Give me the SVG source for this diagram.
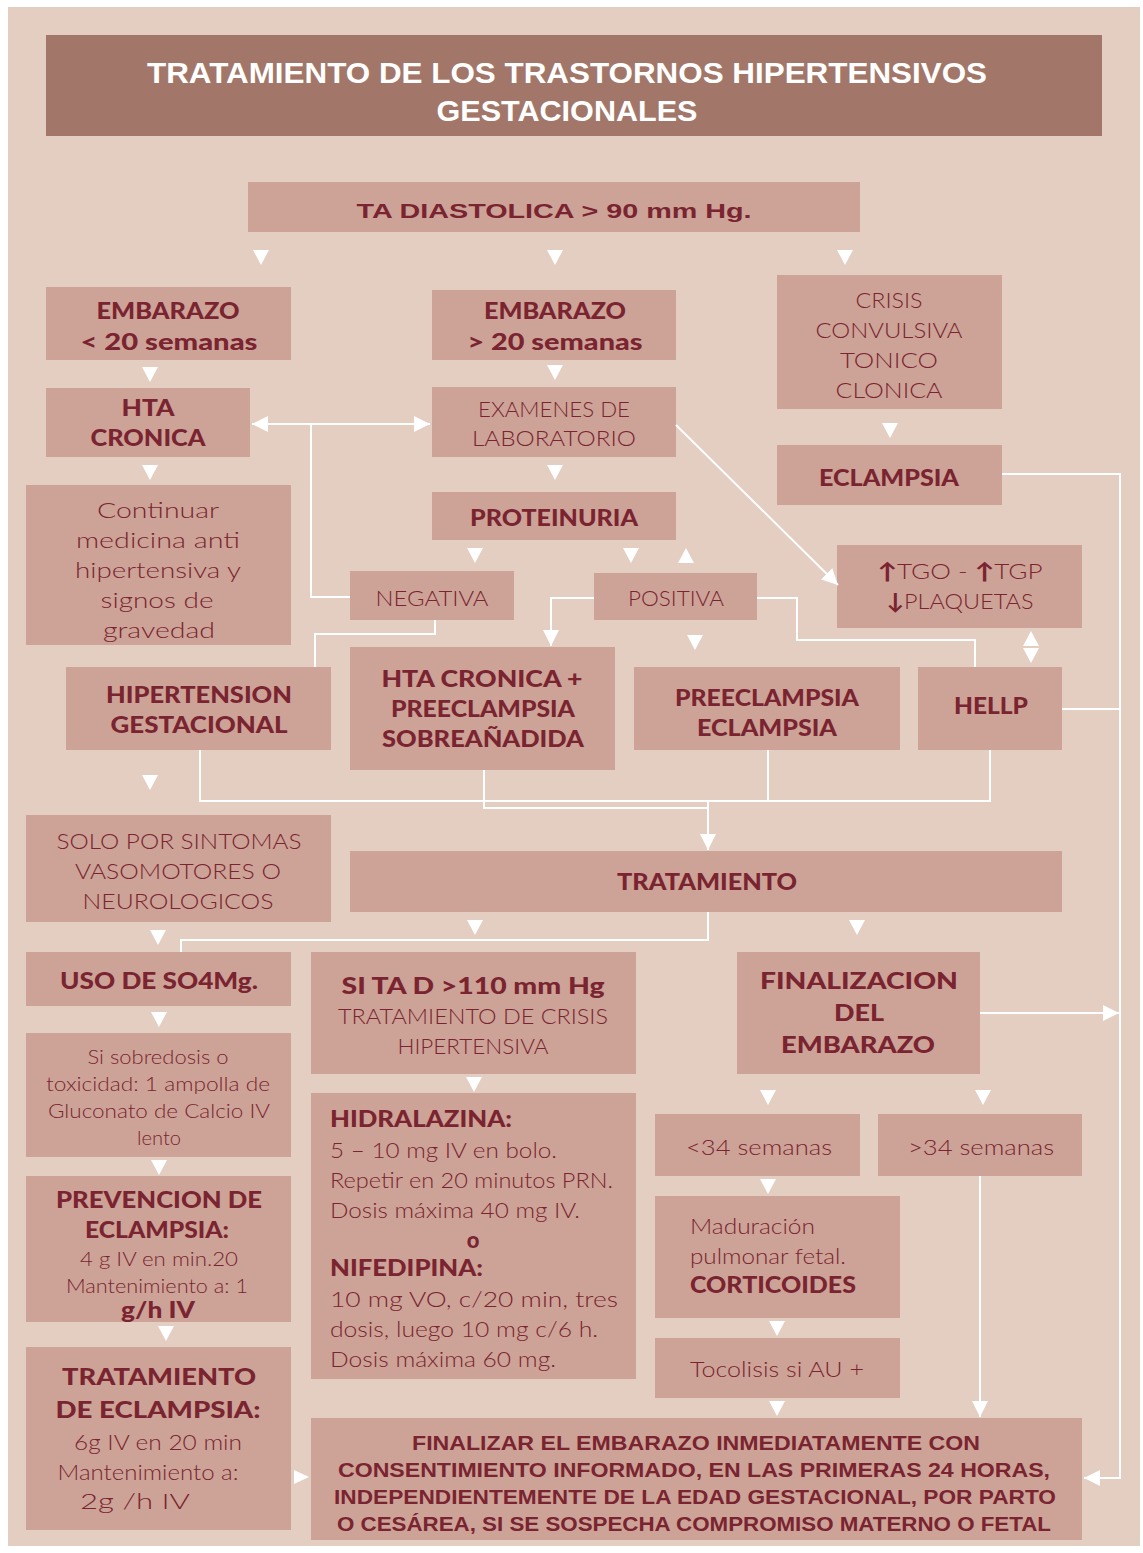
<svg xmlns="http://www.w3.org/2000/svg" width="1143" height="1553" viewBox="0 0 1143 1553">
<style>
.bg{fill:#e4cdc1}
.box{fill:#cca396}
.title{fill:#a27769}
text{font-family:Lato,"Liberation Sans",sans-serif;fill:#7b2431;text-anchor:middle;dominant-baseline:central}
.b{font-weight:900;font-size:22px}
.n{font-weight:300;font-size:22px}
.s{font-weight:300;font-size:19px}
.l{text-anchor:start}
.t{font-family:"Liberation Sans",Arial,sans-serif;font-weight:700;font-size:30px;fill:#ffffff}
.c{font-family:"Liberation Sans",Arial,sans-serif;font-weight:700;font-size:21px}
.ln{fill:none;stroke:#ffffff;stroke-width:2}
.tri{fill:#ffffff}
</style>
<defs>
<marker id="ah" viewBox="0 0 16 16" refX="16" refY="8" markerWidth="16" markerHeight="16" markerUnits="userSpaceOnUse" orient="auto-start-reverse">
<path d="M0,0 L16,8 L0,16 Z" fill="#ffffff"/>
</marker>
<path id="dn" d="M-8,0 L8,0 L0,15 Z"/>
<path id="up" d="M-8,15 L8,15 L0,0 Z"/>
</defs>
<rect x="0" y="0" width="1143" height="1553" fill="#ffffff"/>
<rect class="bg" x="8" y="7" width="1132" height="1539"/>

<g id="title">
<rect class="title" x="46" y="35" width="1056" height="101"/>
<text class="t" x="567" y="72" textLength="840" lengthAdjust="spacingAndGlyphs">TRATAMIENTO DE LOS TRASTORNOS HIPERTENSIVOS</text>
<text class="t" x="567" y="110" textLength="261" lengthAdjust="spacingAndGlyphs">GESTACIONALES</text>
</g>

<g id="ta">
<rect class="box" x="248" y="182" width="612" height="50"/>
<text class="c" x="554" y="210" font-size="24" textLength="395" lengthAdjust="spacingAndGlyphs">TA DIASTOLICA &gt; 90 mm Hg.</text>
</g>

<g id="emb20a">
<rect class="box" x="46" y="287" width="245" height="73"/>
<text class="b" x="168" y="310" textLength="143" lengthAdjust="spacingAndGlyphs">EMBARAZO</text>
<text class="b" x="169" y="341" textLength="177" lengthAdjust="spacingAndGlyphs">&lt; 20 semanas</text>
</g>
<g id="emb20b">
<rect class="box" x="432" y="290" width="244" height="70"/>
<text class="b" x="555" y="310" textLength="142" lengthAdjust="spacingAndGlyphs">EMBARAZO</text>
<text class="b" x="555" y="341" textLength="175" lengthAdjust="spacingAndGlyphs">&gt; 20 semanas</text>
</g>
<g id="crisis">
<rect class="box" x="777" y="275" width="225" height="134"/>
<text class="n" x="889" y="299" textLength="67" lengthAdjust="spacingAndGlyphs">CRISIS</text>
<text class="n" x="889" y="329" textLength="147" lengthAdjust="spacingAndGlyphs">CONVULSIVA</text>
<text class="n" x="889" y="359" textLength="98" lengthAdjust="spacingAndGlyphs">TONICO</text>
<text class="n" x="889" y="389" textLength="107" lengthAdjust="spacingAndGlyphs">CLONICA</text>
</g>

<g id="htacronica">
<rect class="box" x="46" y="388" width="204" height="69"/>
<text class="b" x="148" y="407" textLength="53" lengthAdjust="spacingAndGlyphs">HTA</text>
<text class="b" x="148" y="437" textLength="115" lengthAdjust="spacingAndGlyphs">CRONICA</text>
</g>
<g id="examenes">
<rect class="box" x="432" y="387" width="244" height="70"/>
<text class="n" x="554" y="408" textLength="152" lengthAdjust="spacingAndGlyphs">EXAMENES DE</text>
<text class="n" x="554" y="437" textLength="164" lengthAdjust="spacingAndGlyphs">LABORATORIO</text>
</g>
<g id="eclampsia">
<rect class="box" x="777" y="445" width="225" height="60"/>
<text class="b" x="889" y="477" textLength="140" lengthAdjust="spacingAndGlyphs">ECLAMPSIA</text>
</g>

<g id="continuar">
<rect class="box" x="26" y="485" width="265" height="160"/>
<text class="n" x="158" y="509" textLength="122" lengthAdjust="spacingAndGlyphs">Continuar</text>
<text class="n" x="158" y="539" textLength="164" lengthAdjust="spacingAndGlyphs">medicina anti</text>
<text class="n" x="158" y="569" textLength="166" lengthAdjust="spacingAndGlyphs">hipertensiva y</text>
<text class="n" x="157" y="599" textLength="113" lengthAdjust="spacingAndGlyphs">signos de</text>
<text class="n" x="159" y="629" textLength="112" lengthAdjust="spacingAndGlyphs">gravedad</text>
</g>
<g id="proteinuria">
<rect class="box" x="432" y="492" width="244" height="48"/>
<text class="b" x="554" y="517" textLength="168" lengthAdjust="spacingAndGlyphs">PROTEINURIA</text>
</g>
<g id="negativa">
<rect class="box" x="350" y="571" width="164" height="49"/>
<text class="n" x="432" y="597" textLength="113" lengthAdjust="spacingAndGlyphs">NEGATIVA</text>
</g>
<g id="positiva">
<rect class="box" x="594" y="573" width="163" height="47"/>
<text class="n" x="676" y="597" textLength="96" lengthAdjust="spacingAndGlyphs">POSITIVA</text>
</g>
<g id="tgo">
<rect class="box" x="837" y="545" width="245" height="83"/>
<text class="n" x="960" y="570" textLength="165" lengthAdjust="spacingAndGlyphs"><tspan font-weight="900">↑</tspan>TGO - <tspan font-weight="900">↑</tspan>TGP</text>
<text class="n" x="960" y="600" textLength="147" lengthAdjust="spacingAndGlyphs"><tspan font-weight="900">↓</tspan>PLAQUETAS</text>
</g>

<g id="hipertension">
<rect class="box" x="66" y="667" width="265" height="83"/>
<text class="b" x="199" y="694" textLength="186" lengthAdjust="spacingAndGlyphs">HIPERTENSION</text>
<text class="b" x="199" y="724" textLength="177" lengthAdjust="spacingAndGlyphs">GESTACIONAL</text>
</g>
<g id="htapre">
<rect class="box" x="350" y="647" width="265" height="123"/>
<text class="b" x="482" y="678" textLength="201" lengthAdjust="spacingAndGlyphs">HTA CRONICA +</text>
<text class="b" x="483" y="708" textLength="184" lengthAdjust="spacingAndGlyphs">PREECLAMPSIA</text>
<text class="b" x="483" y="738" textLength="202" lengthAdjust="spacingAndGlyphs">SOBREAÑADIDA</text>
</g>
<g id="preeclampsia">
<rect class="box" x="634" y="667" width="266" height="83"/>
<text class="b" x="767" y="697" textLength="184" lengthAdjust="spacingAndGlyphs">PREECLAMPSIA</text>
<text class="b" x="767" y="727" textLength="140" lengthAdjust="spacingAndGlyphs">ECLAMPSIA</text>
</g>
<g id="hellp">
<rect class="box" x="918" y="667" width="144" height="83"/>
<text class="b" x="991" y="705" textLength="74" lengthAdjust="spacingAndGlyphs">HELLP</text>
</g>

<g id="solo">
<rect class="box" x="26" y="815" width="305" height="107"/>
<text class="n" x="179" y="840" textLength="245" lengthAdjust="spacingAndGlyphs">SOLO POR SINTOMAS</text>
<text class="n" x="178" y="870" textLength="206" lengthAdjust="spacingAndGlyphs">VASOMOTORES O</text>
<text class="n" x="178" y="900" textLength="191" lengthAdjust="spacingAndGlyphs">NEUROLOGICOS</text>
</g>
<g id="tratamiento">
<rect class="box" x="350" y="851" width="712" height="61"/>
<text class="b" x="707" y="881" textLength="180" lengthAdjust="spacingAndGlyphs">TRATAMIENTO</text>
</g>

<g id="uso">
<rect class="box" x="26" y="952" width="265" height="54"/>
<text class="b" x="159" y="980" textLength="198" lengthAdjust="spacingAndGlyphs">USO DE SO4Mg.</text>
</g>
<g id="sitad">
<rect class="box" x="311" y="952" width="325" height="122"/>
<text class="b" x="473" y="985" textLength="263" lengthAdjust="spacingAndGlyphs">SI TA D &gt;110 mm Hg</text>
<text class="n" x="473" y="1015" textLength="270" lengthAdjust="spacingAndGlyphs">TRATAMIENTO DE CRISIS</text>
<text class="n" x="473" y="1045" textLength="151" lengthAdjust="spacingAndGlyphs">HIPERTENSIVA</text>
</g>
<g id="finalizacion">
<rect class="box" x="737" y="952" width="243" height="122"/>
<text class="b" x="859" y="980" font-size="25" textLength="198" lengthAdjust="spacingAndGlyphs">FINALIZACION</text>
<text class="b" x="859" y="1012" font-size="25" textLength="50" lengthAdjust="spacingAndGlyphs">DEL</text>
<text class="b" x="858" y="1044" font-size="25" textLength="154" lengthAdjust="spacingAndGlyphs">EMBARAZO</text>
</g>

<g id="sobredosis">
<rect class="box" x="26" y="1033" width="265" height="124"/>
<text class="s" x="158" y="1056" textLength="141" lengthAdjust="spacingAndGlyphs">Si sobredosis o</text>
<text class="s" x="158" y="1083" textLength="224" lengthAdjust="spacingAndGlyphs">toxicidad: 1 ampolla de</text>
<text class="s" x="159" y="1110" textLength="222" lengthAdjust="spacingAndGlyphs">Gluconato de Calcio IV</text>
<text class="s" x="159" y="1137" textLength="44" lengthAdjust="spacingAndGlyphs">lento</text>
</g>
<g id="prevencion">
<rect class="box" x="26" y="1176" width="265" height="146"/>
<text class="b" x="159" y="1199" textLength="206" lengthAdjust="spacingAndGlyphs">PREVENCION DE</text>
<text class="b" x="157" y="1229" textLength="144" lengthAdjust="spacingAndGlyphs">ECLAMPSIA:</text>
<text class="s" x="159" y="1258" textLength="158" lengthAdjust="spacingAndGlyphs">4 g IV en min.20</text>
<text class="s" x="157" y="1285" textLength="182" lengthAdjust="spacingAndGlyphs">Mantenimiento a: 1</text>
<text class="b" x="158" y="1309" textLength="74" lengthAdjust="spacingAndGlyphs">g/h IV</text>
</g>
<g id="tratecl">
<rect class="box" x="26" y="1347" width="265" height="183"/>
<text class="b" x="159" y="1376" font-size="26" textLength="194" lengthAdjust="spacingAndGlyphs">TRATAMIENTO</text>
<text class="b" x="158" y="1409" font-size="26" textLength="205" lengthAdjust="spacingAndGlyphs">DE ECLAMPSIA:</text>
<text class="n" x="158" y="1441" textLength="168" lengthAdjust="spacingAndGlyphs">6g IV en 20 min</text>
<text class="n" x="148" y="1471" textLength="181" lengthAdjust="spacingAndGlyphs">Mantenimiento a:</text>
<text class="n" x="135" y="1500" textLength="110" lengthAdjust="spacingAndGlyphs">2g /h IV</text>
</g>

<g id="hidralazina">
<rect class="box" x="311" y="1093" width="325" height="286"/>
<text class="b l" x="330" y="1118" textLength="182" lengthAdjust="spacingAndGlyphs">HIDRALAZINA:</text>
<text class="n l" x="330" y="1149" textLength="227" lengthAdjust="spacingAndGlyphs">5 – 10 mg IV en bolo.</text>
<text class="n l" x="330" y="1179" textLength="283" lengthAdjust="spacingAndGlyphs">Repetir en 20 minutos PRN.</text>
<text class="n l" x="330" y="1209" textLength="250" lengthAdjust="spacingAndGlyphs">Dosis máxima 40 mg IV.</text>
<text class="b" x="473" y="1239">o</text>
<text class="b l" x="330" y="1267" textLength="153" lengthAdjust="spacingAndGlyphs">NIFEDIPINA:</text>
<text class="n l" x="330" y="1298" textLength="288" lengthAdjust="spacingAndGlyphs">10 mg VO, c/20 min, tres</text>
<text class="n l" x="330" y="1328" textLength="268" lengthAdjust="spacingAndGlyphs">dosis, luego 10 mg c/6 h.</text>
<text class="n l" x="330" y="1358" textLength="226" lengthAdjust="spacingAndGlyphs">Dosis máxima 60 mg.</text>
</g>

<g id="menos34">
<rect class="box" x="655" y="1114" width="205" height="62"/>
<text class="n" x="759" y="1146" textLength="146" lengthAdjust="spacingAndGlyphs">&lt;34 semanas</text>
</g>
<g id="mas34">
<rect class="box" x="878" y="1114" width="204" height="62"/>
<text class="n" x="981" y="1146" textLength="146" lengthAdjust="spacingAndGlyphs">&gt;34 semanas</text>
</g>
<g id="maduracion">
<rect class="box" x="655" y="1196" width="245" height="122"/>
<text class="n l" x="690" y="1225" textLength="125" lengthAdjust="spacingAndGlyphs">Maduración</text>
<text class="n l" x="690" y="1255" textLength="156" lengthAdjust="spacingAndGlyphs">pulmonar fetal.</text>
<text class="b l" x="690" y="1284" textLength="166" lengthAdjust="spacingAndGlyphs">CORTICOIDES</text>
</g>
<g id="tocolisis">
<rect class="box" x="655" y="1338" width="245" height="60"/>
<text class="n l" x="690" y="1368" textLength="174" lengthAdjust="spacingAndGlyphs">Tocolisis si AU  +</text>
</g>

<g id="finalizar">
<rect class="box" x="311" y="1418" width="771" height="122"/>
<text class="c" x="696" y="1442" textLength="568" lengthAdjust="spacingAndGlyphs">FINALIZAR EL EMBARAZO INMEDIATAMENTE CON</text>
<text class="c" x="694" y="1469" textLength="712" lengthAdjust="spacingAndGlyphs">CONSENTIMIENTO INFORMADO, EN LAS PRIMERAS 24 HORAS,</text>
<text class="c" x="695" y="1496" textLength="722" lengthAdjust="spacingAndGlyphs">INDEPENDIENTEMENTE DE LA EDAD GESTACIONAL, POR PARTO</text>
<text class="c" x="694" y="1523" textLength="714" lengthAdjust="spacingAndGlyphs">O CESÁREA, SI SE SOSPECHA COMPROMISO MATERNO O FETAL</text>
</g>

<g id="connectors">
<polyline class="ln" points="252,424 430,424" marker-start="url(#ah)" marker-end="url(#ah)"/>
<polyline class="ln" points="311,424 311,597 350,597"/>
<polyline class="ln" points="676,425 838,585" marker-end="url(#ah)"/>
<polyline class="ln" points="435,620 435,634 315,634 315,667"/>
<polyline class="ln" points="594,598 551,598 551,646" marker-end="url(#ah)"/>
<polyline class="ln" points="757,598 797,598 797,640 975,640 975,667"/>
<polyline class="ln" points="200,750 200,801 990,801 990,750"/>
<polyline class="ln" points="768,750 768,801"/>
<polyline class="ln" points="484,770 484,808 708,808"/>
<polyline class="ln" points="708,801 708,850" marker-end="url(#ah)"/>
<polyline class="ln" points="708,912 708,940 181,940 181,952"/>
<polyline class="ln" points="1002,474 1120,474 1120,1478 1084,1478" marker-end="url(#ah)"/>
<polyline class="ln" points="1062,709 1120,709"/>
<polyline class="ln" points="980,1013 1119,1013" marker-end="url(#ah)"/>
<polyline class="ln" points="980,1176 980,1417" marker-end="url(#ah)"/>
<g class="tri">
<use href="#dn" x="261" y="250"/>
<use href="#dn" x="555" y="250"/>
<use href="#dn" x="845" y="250"/>
<use href="#dn" x="150" y="367"/>
<use href="#dn" x="555" y="365"/>
<use href="#dn" x="890" y="423"/>
<use href="#dn" x="150" y="465"/>
<use href="#dn" x="555" y="465"/>
<use href="#dn" x="475" y="548"/>
<use href="#dn" x="631" y="548"/>
<use href="#up" x="686" y="548"/>
<use href="#dn" x="695" y="635"/>
<use href="#up" x="1031" y="631"/>
<use href="#dn" x="1031" y="648"/>
<use href="#dn" x="150" y="775"/>
<use href="#dn" x="158" y="930"/>
<use href="#dn" x="475" y="920"/>
<use href="#dn" x="857" y="920"/>
<use href="#dn" x="159" y="1012"/>
<use href="#dn" x="474" y="1077"/>
<use href="#dn" x="768" y="1090"/>
<use href="#dn" x="983" y="1090"/>
<use href="#dn" x="159" y="1160"/>
<use href="#dn" x="768" y="1179"/>
<use href="#dn" x="166" y="1326"/>
<use href="#dn" x="777" y="1321"/>
<use href="#dn" x="777" y="1401"/>
<path d="M294,1470 L309,1477 L294,1484 Z"/>
</g>
</g>
</svg>
